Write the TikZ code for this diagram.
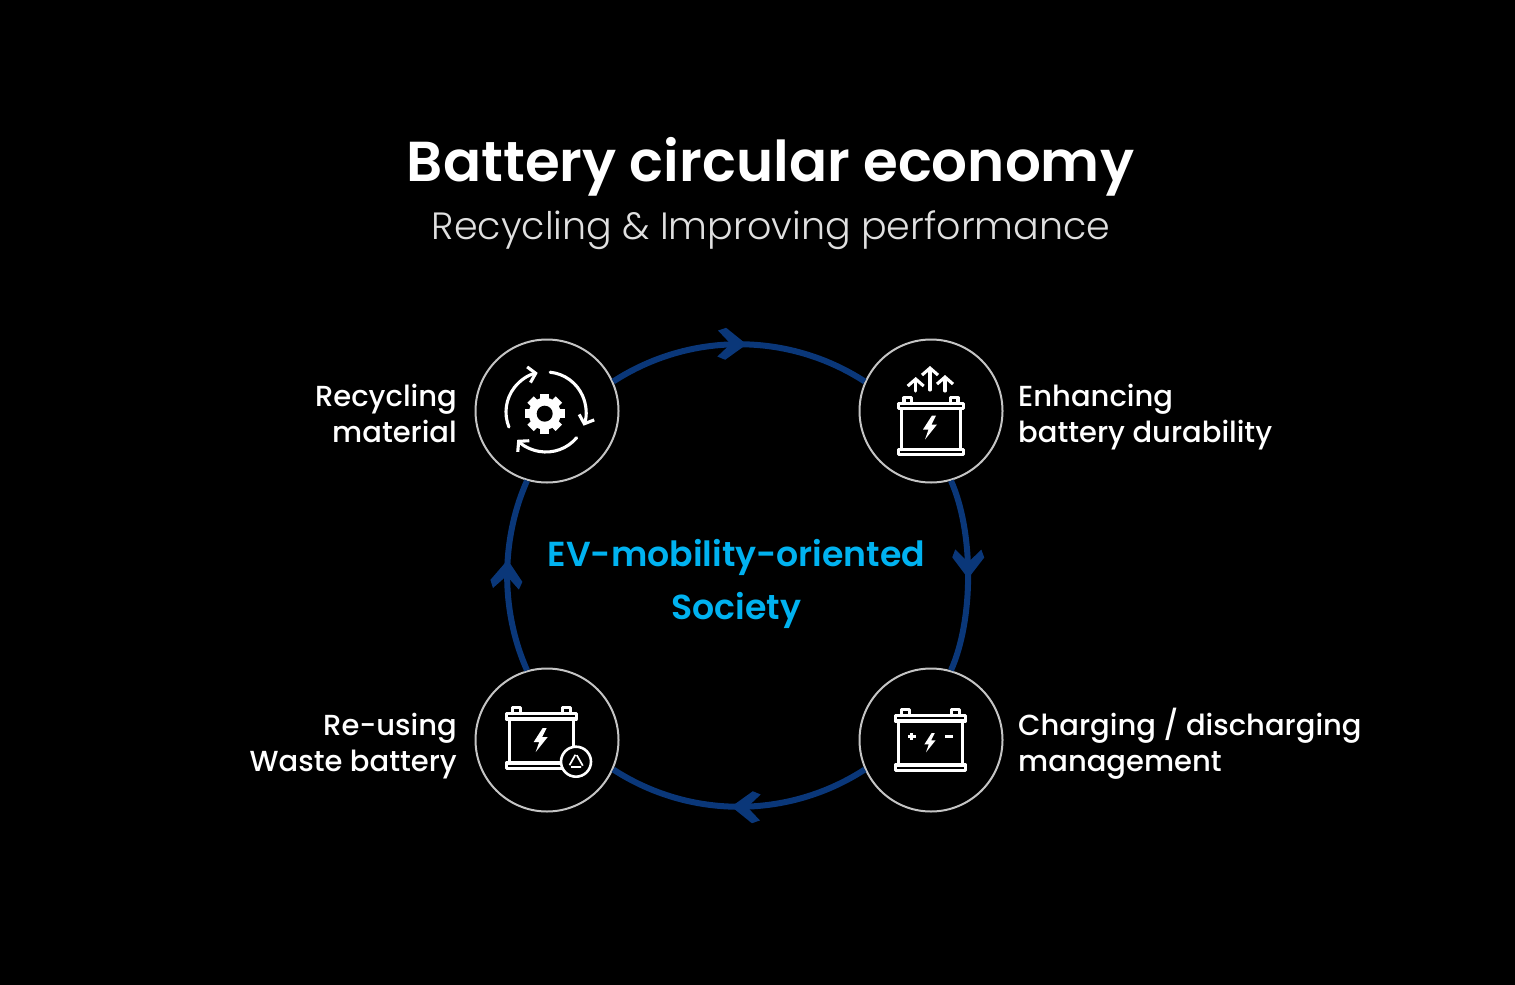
\documentclass[tikz,border=0pt]{standalone}
\usepackage{fontspec}
\setmainfont{Poppins}
\newfontfamily\semi{Poppins SemiBold}
\newfontfamily\med{Poppins Medium}
\newfontfamily\lite{Poppins Light}
\usetikzlibrary{arrows.meta,decorations.markings}
\definecolor{ringblue}{HTML}{0A3779}
\definecolor{skyb}{HTML}{00B2F0}
\definecolor{ringgrey}{HTML}{C4C4C4}
\tikzset{
  x=1pt,y=-1pt,
  stepnode/.style={circle,draw=ringgrey,line width=2pt,fill=black,minimum size=143pt,inner sep=0pt},
  flow/.style={draw=ringblue,line width=6pt,postaction={decorate},
    decoration={markings,mark=at position #1 with {
      \fill[ringblue] (1,0) -- (-20,-16) -- (-28,-13) -- (-15,0) -- (-28,13) -- (-20,16) -- cycle;}}},
  lbl/.style={text=white,inner sep=0pt,font=\med\fontsize{29}{36}\selectfont},
  icon/.style={draw=white,line width=3.1pt,line cap=round,line join=round},
  tiparrow/.style={icon,-{Straight Barb[length=7pt,width=16pt]}},
  pics/battery/.style={code={
    \draw[icon] (-35,0) rectangle (35,5.5);
    \draw[icon] (-32,5.5) -- (-32,49.5) (32,5.5) -- (32,49.5);
    \draw[icon] (-35,49.5) rectangle (35,55);
    \draw[icon] (-29,0) -- (-29,-6) -- (-21,-6) -- (-21,0);
    \draw[icon] (29,0) -- (29,-6) -- (21,-6) -- (21,0);
  }},
  pics/bolt/.style={code={
    \fill[white] (2,-12) -- (-7,2) -- (-1.5,2) -- (-5,12) -- (7,-3) -- (1.5,-3) -- (6,-12) -- cycle;
  }}
}
\begin{document}
\begin{tikzpicture}
\fill[black] (0,0) rectangle (1515,985);
\useasboundingbox (0,0) rectangle (1515,985);

\node[anchor=base,text=white,inner sep=0pt] (title) at (770.5,181) {\semi\fontsize{56.3}{60}\selectfont Battery circular economy};
\node[anchor=base,text=white!88!black,inner sep=0pt] (sub) at (771,239) {\lite\fontsize{38}{42}\selectfont Recycling \& Improving performance};

\node[stepnode] (rc) at (547,411) {};
\node[stepnode] (en) at (931,411) {};
\node[stepnode] (re) at (547,740) {};
\node[stepnode] (ch) at (931,740) {};

\path[flow=0.525] (rc.24) to[out=33,in=147,looseness=0.93] (en.156);
\path[flow=0.51] (en.286) to[out=-66,in=66,looseness=0.76] (ch.74);
\path[flow=0.525] (ch.204) to[out=213,in=-33,looseness=0.93] (re.336);
\path[flow=0.575] (re.106) to[out=114,in=-114,looseness=0.88] (rc.254);

\node[anchor=base,text=skyb,inner sep=0pt] (c1) at (736.5,566) {\semi\fontsize{34.7}{40}\selectfont EV-mobility-oriented};
\node[anchor=base,text=skyb,inner sep=0pt] (c2) at (736.5,619) {\semi\fontsize{34.7}{40}\selectfont Society};

\node[lbl,anchor=base east] (l1a) at (457,406) {Recycling};
\node[lbl,anchor=base east] (l1b) at (457,442) {material};
\node[lbl,anchor=base west] (l2a) at (1018,406) {Enhancing};
\node[lbl,anchor=base west] (l2b) at (1018,442) {battery durability};
\node[lbl,anchor=base east] (l3a) at (457,735) {Re-using};
\node[lbl,anchor=base east] (l3b) at (457,771) {Waste battery};
\node[lbl,anchor=base west] (l4a) at (1018,735) {Charging / discharging};
\node[lbl,anchor=base west] (l4b) at (1018,771) {management};

% recycling icon
\begin{scope}[shift={(546,412)},y=1pt]
  \draw[tiparrow] (202:40) arc[start angle=202,end angle=102,radius=40];
  \draw[tiparrow] (84:40) arc[start angle=84,end angle=-20,radius=40];
  \draw[tiparrow] (-40:40) arc[start angle=-40,end angle=-136,radius=40];
  \begin{scope}[shift={(-1.3,-1.7)}]
    \fill[white] (0,0) circle[radius=16];
    \foreach \a in {0,45,...,315} {\fill[white,rotate=\a] (13,-4.5) rectangle (20,4.5);}
    \fill[black] (0,0) circle[radius=8];
  \end{scope}
\end{scope}

% durability icon
\pic[scale=0.93] at (931,403.5) {battery};
\pic at (930,427.5) {bolt};
\draw[tiparrow] (930,390) -- (930,366);
\draw[tiparrow] (915.7,391) -- (915.7,377);
\draw[tiparrow] (945,391) -- (945,375);

% re-use icon
\pic at (541.5,713.5) {battery};
\pic at (540.7,740) {bolt};
\fill[black,draw=white,line width=2.6pt] (576,761.7) circle[radius=15];
\begin{scope}[shift={(576,761.7)}]
  \draw[white,line width=1.7pt] (-0.6,-7) -- (-6.5,3.5) (0.8,-6.5) -- (6.8,4) (-5,5.2) -- (5,5.2);
\end{scope}

% charging icon
\pic at (930.5,715.5) {battery};
\pic[scale=0.8] at (930,742.7) {bolt};
\draw[white,line width=2.6pt] (908,736.7) -- (915.5,736.7) (911.7,733) -- (911.7,740.4);
\draw[white,line width=2.6pt] (945,736.7) -- (953,736.7);
\end{tikzpicture}
\end{document}
